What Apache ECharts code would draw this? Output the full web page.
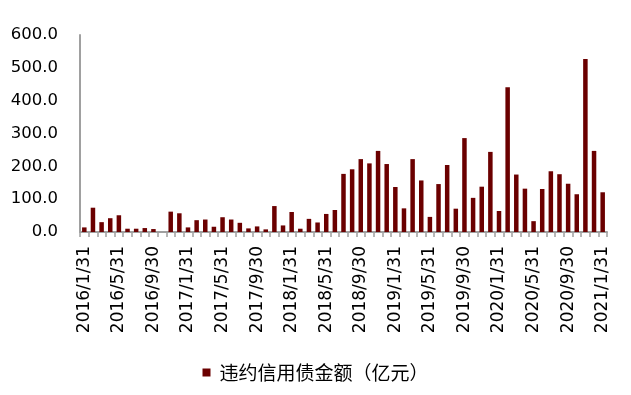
<!DOCTYPE html>
<html><head><meta charset="utf-8">
<script src="https://cdn.jsdelivr.net/npm/echarts@6/dist/echarts.min.js"></script>
<style>html,body{margin:0;padding:0;background:#fff}#c{width:631px;height:395px}</style>
</head><body><div id="c"></div>
<script>
const categories = [
'2016/1/31','2016/2/29','2016/3/31','2016/4/30','2016/5/31','2016/6/30','2016/7/31','2016/8/31','2016/9/30','2016/10/31','2016/11/30','2016/12/31',
'2017/1/31','2017/2/28','2017/3/31','2017/4/30','2017/5/31','2017/6/30','2017/7/31','2017/8/31','2017/9/30','2017/10/31','2017/11/30','2017/12/31',
'2018/1/31','2018/2/28','2018/3/31','2018/4/30','2018/5/31','2018/6/30','2018/7/31','2018/8/31','2018/9/30','2018/10/31','2018/11/30','2018/12/31',
'2019/1/31','2019/2/28','2019/3/31','2019/4/30','2019/5/31','2019/6/30','2019/7/31','2019/8/31','2019/9/30','2019/10/31','2019/11/30','2019/12/31',
'2020/1/31','2020/2/29','2020/3/31','2020/4/30','2020/5/31','2020/6/30','2020/7/31','2020/8/31','2020/9/30','2020/10/31','2020/11/30','2020/12/31',
'2021/1/31'];
const defaultAmount = [14,74,30,42,51,10,10,12,9,0,62,57,
14,36,38,16,45,38,28,11,17,8,79,20,
61,10,40,29,55,67,177,191,222,209,247,207,
137,72,222,157,46,146,204,71,286,104,138,244,
64,441,175,132,33,131,185,176,147,115,527,247,
121];
const seriesName = '违约信用债金额（亿元）';
const yMin = 0, yMax = 600, yInterval = 100;

const chart = echarts.init(document.getElementById('c'));
const font = 'DejaVu Sans';
chart.setOption({
  animation: false,
  grid: {left: 80, right: 24, top: 35, bottom: 163, containLabel: false},
  legend: {
    bottom: 8, left: 'center', icon: 'rect', itemWidth: 8, itemHeight: 8,
    textStyle: {fontFamily: 'Noto Sans CJK SC', fontSize: 19, color: '#000', padding: [0,0,0,4]},
    data: [seriesName]
  },
  xAxis: {
    type: 'category', data: categories, boundaryGap: true,
    axisLine: {lineStyle: {color: '#a0a0a0', width: 2}},
    axisTick: {show: true, interval: 0, length: 5, lineStyle: {color: '#a0a0a0', width: 1.5}},
    axisLabel: {interval: 3, rotate: 90, margin: 14, fontFamily: font, fontSize: 17, color: '#000'}
  },
  yAxis: {
    type: 'value', min: yMin, max: yMax, interval: yInterval,
    axisLine: {show: true, lineStyle: {color: '#a0a0a0', width: 2}},
    axisTick: {show: false},
    splitLine: {show: false},
    axisLabel: {margin: 22, fontFamily: font, fontSize: 16.5, color: '#000', formatter: v => v.toFixed(1)}
  },
  series: [{
    name: seriesName, type: 'bar', data: defaultAmount, barWidth: 4.5,
    itemStyle: {color: '#6b0000'}
  }]
});
</script></body></html>
